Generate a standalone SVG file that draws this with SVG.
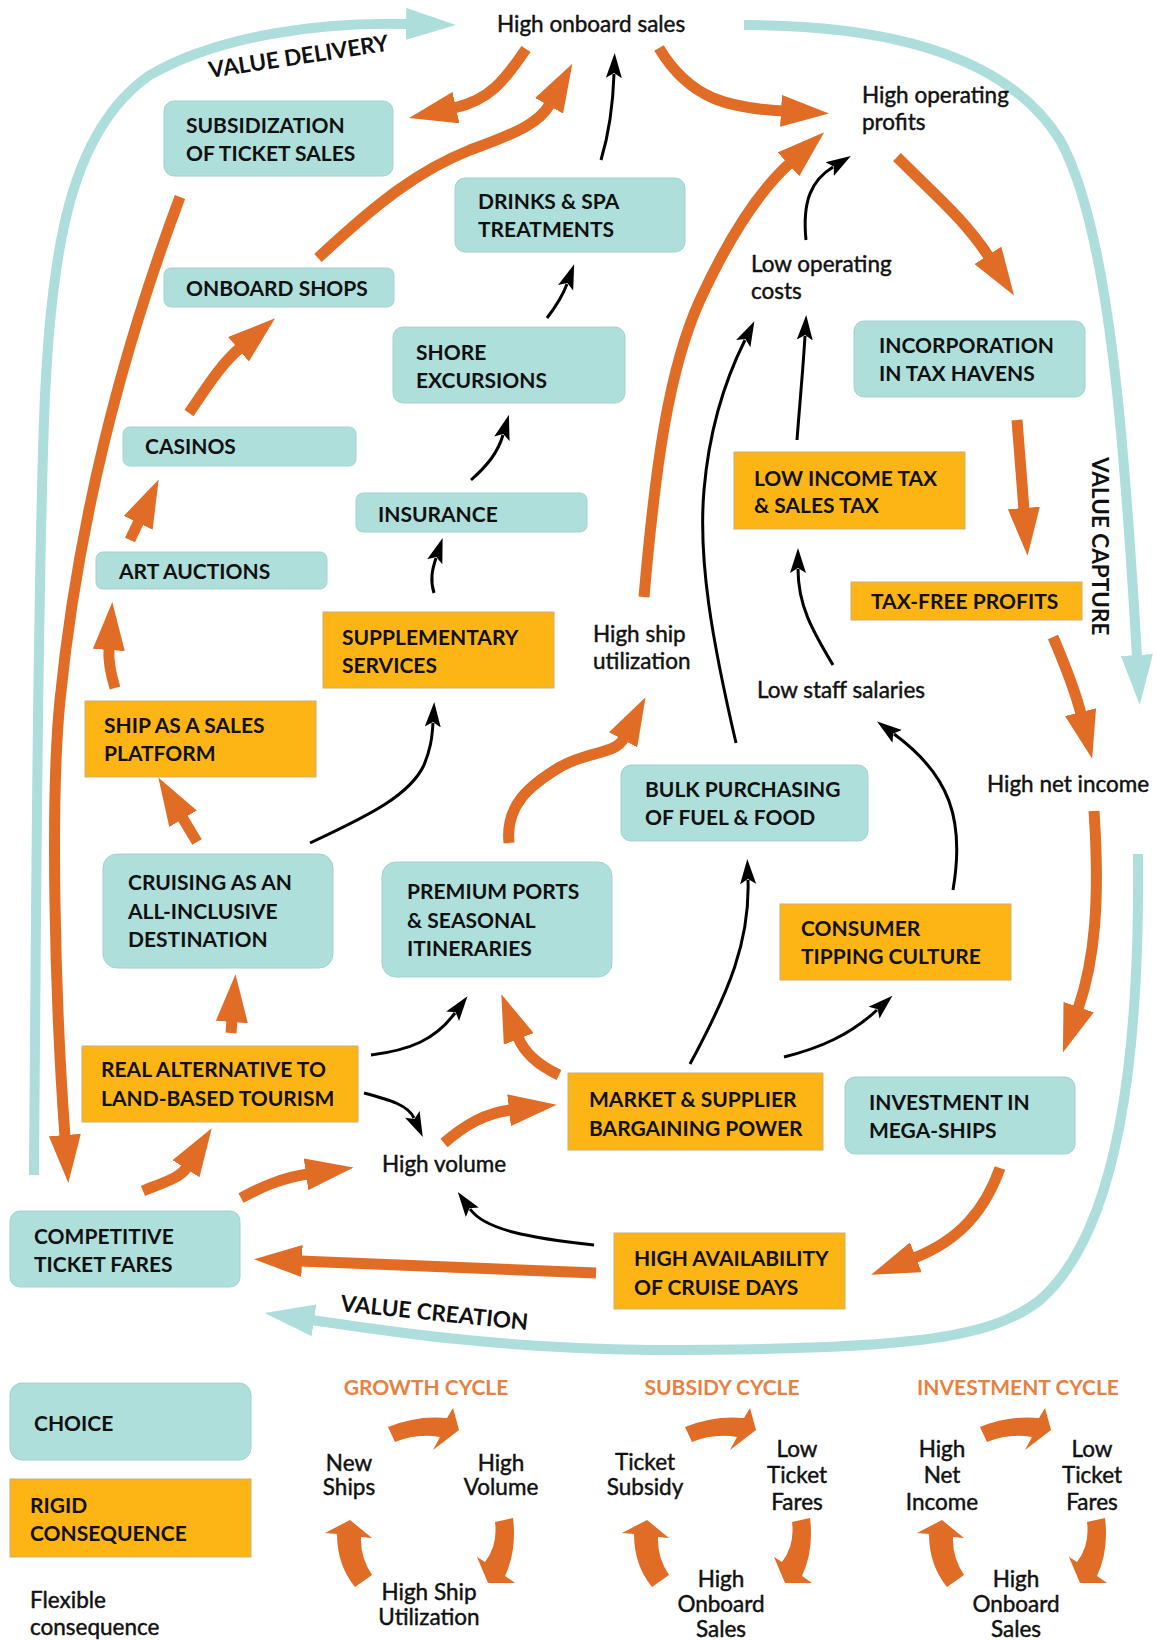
<svg xmlns="http://www.w3.org/2000/svg" width="1156" height="1640" viewBox="0 0 1156 1640">
<defs>
<style>
.ch{fill:#AEDFDB;stroke:#a3d2ce;stroke-width:1}
.rc{fill:#FDB515;stroke:#c9ad7a;stroke-width:1}
text{font-family:Lato,"Liberation Sans",sans-serif;fill:#111}
.bt{font-weight:700;font-size:21px}
.pt{font-weight:400;font-size:22.5px;stroke:#111;stroke-width:0.45}
.lt{font-weight:400;font-size:22.5px;text-anchor:middle;stroke:#111;stroke-width:0.45}
.ct{font-weight:700;font-size:21px;fill:#E8813F;text-anchor:middle}
.big{font-weight:700;font-size:22.5px}
.o{fill:none;stroke:#E06C26;stroke-width:11;marker-end:url(#ho)}
.k{fill:none;stroke:#000;stroke-width:3;marker-end:url(#hk)}
.t{fill:none;stroke:#ADDEDB;stroke-width:10;marker-end:url(#ht)}
.cyc{fill:#E06C26}
</style>
<marker id="ho" markerUnits="userSpaceOnUse" viewBox="0 0 48 32" markerWidth="48" markerHeight="32" refX="2" refY="16" orient="auto"><path d="M0,0 L48,16 L0,32 Z" fill="#E06C26"/></marker>
<marker id="hk" markerUnits="userSpaceOnUse" viewBox="0 0 26 18" markerWidth="26" markerHeight="18" refX="4" refY="9" orient="auto"><path d="M0,1 L25,9 L0,17 L5,9 Z" fill="#000"/></marker>
<marker id="ht" markerUnits="userSpaceOnUse" viewBox="0 0 50 32" markerWidth="50" markerHeight="32" refX="2" refY="16" orient="auto"><path d="M0,0 L50,16 L0,32 Z" fill="#ADDEDB"/></marker>
<g id="cycle">
<path class="cyc" d="M-37,-88 Q-8,-100 22,-97 L28,-107 L34,-85 L8,-65 L15,-78 Q-8,-82 -30,-73 Z"/>
<path class="cyc" d="M70,7 L88,3 Q92,35 80,61 L90,68 L63,68 L52,42 L60,47 Q73,30 70,7 Z"/>
<path class="cyc" d="M-70,72 Q-88,50 -88,19 L-100,18 L-75,5 L-53,23 L-64,22 Q-65,42 -53,60 Z"/>
</g>
</defs>
<rect width="1156" height="1640" fill="#fff"/>

<g id="connectors">
<path class="t" d="M34,1175 C36,900 38,600 44,420 C50,250 70,130 150,75 C220,35 320,22 408,24"/>
<path class="t" d="M744,25 C900,25 1010,60 1060,140 C1110,230 1125,450 1137,657"/>
<path class="t" d="M1138,854 C1140,1050 1120,1230 1040,1300 C990,1340 900,1350 650,1350 C500,1348 400,1333 312,1320"/>

<path class="o" d="M526,49 C505,80 490,100 454,108"/>
<path class="o" d="M318,258 C380,200 420,170 470,150 C520,132 540,122 550,104"/>
<path class="o" d="M659,48 C690,100 730,108 783,111"/>
<path class="o" d="M644,597 C655,470 668,370 700,300 C730,235 760,190 790,163"/>
<path class="o" d="M897,157 C935,195 965,220 989,257"/>
<path class="o" d="M1017,420 L1024,510"/>
<path class="o" d="M1053,637 C1065,665 1075,690 1081,714"/>
<path class="o" d="M1094,811 C1100,900 1095,960 1078,1009"/>
<path class="o" d="M1000,1168 C985,1210 960,1240 914,1258"/>
<path class="o" d="M596,1273 L300,1261"/>
<path class="o" d="M444,1143 C465,1125 485,1113 511,1110"/>
<path class="o" d="M143,1191 C165,1182 180,1178 187,1167"/>
<path class="o" d="M241,1198 C260,1188 280,1178 308,1174"/>
<path class="o" d="M180,197 C130,330 80,500 60,700 C50,800 55,1000 65,1137"/>
<path class="o" d="M231,1033 L232,1020"/>
<path class="o" d="M197,842 L182,817"/>
<path class="o" d="M115,688 C111,675 108,662 109,648"/>
<path class="o" d="M130,540 L139,521"/>
<path class="o" d="M189,413 C205,390 220,365 240,348"/>
<path class="o" d="M509,843 C505,805 530,785 560,767 C590,750 615,755 624,738"/>
<path class="o" d="M559,1075 C540,1066 525,1055 518,1037"/>

<path class="k" d="M601,160 C610,130 613,105 614,74"/>
<path class="k" d="M806,240 C802,200 812,180 833,167"/>
<path class="k" d="M736,743 C712,640 698,560 704,490 C710,420 730,370 745,340"/>
<path class="k" d="M797,440 C800,400 803,370 805,336"/>
<path class="k" d="M833,665 C812,630 798,605 798,569"/>
<path class="k" d="M953,890 C965,820 950,775 894,734"/>
<path class="k" d="M594,1245 C530,1238 485,1230 470,1209"/>
<path class="k" d="M364,1093 C390,1100 408,1105 414,1118"/>
<path class="k" d="M371,1055 C410,1050 435,1040 455,1013"/>
<path class="k" d="M471,480 C488,465 498,452 503,435"/>
<path class="k" d="M434,593 C430,580 432,570 436,558"/>
<path class="k" d="M547,318 C557,305 563,295 567,284"/>
<path class="k" d="M310,843 C370,815 410,795 424,765 C430,750 432,740 433,723"/>
<path class="k" d="M690,1064 C730,990 750,940 748,880"/>
<path class="k" d="M784,1057 C820,1048 850,1035 877,1010"/>
</g>

<g id="labels">
<text class="big" transform="rotate(-8.7 210 78)" x="210" y="78">VALUE DELIVERY</text>
<text class="big" transform="rotate(90 1092 457)" x="1092" y="457">VALUE CAPTURE</text>
<text class="big" transform="rotate(5.8 340 1311)" x="340" y="1311">VALUE CREATION</text>
</g>

<g id="n-high-onboard-sales"><text class="pt" x="497" y="32">High onboard sales</text></g>
<g id="n-high-operating-profits"><text class="pt" x="862" y="103">High operating</text><text class="pt" x="862" y="130">profits</text></g>
<g id="n-low-operating-costs"><text class="pt" x="751" y="272">Low operating</text><text class="pt" x="751" y="299">costs</text></g>
<g id="n-high-ship-utilization"><text class="pt" x="593" y="642">High ship</text><text class="pt" x="593" y="669">utilization</text></g>
<g id="n-low-staff-salaries"><text class="pt" x="757" y="698">Low staff salaries</text></g>
<g id="n-high-net-income"><text class="pt" x="987" y="792">High net income</text></g>
<g id="n-high-volume"><text class="pt" x="382" y="1172">High volume</text></g>

<g id="n-subsidization"><rect class="ch" x="164" y="101" width="229" height="75" rx="10"/><text class="bt" x="186" y="133">SUBSIDIZATION</text><text class="bt" x="186" y="161">OF TICKET SALES</text></g>
<g id="n-onboard-shops"><rect class="ch" x="164" y="268" width="230" height="39" rx="7"/><text class="bt" x="186" y="296">ONBOARD SHOPS</text></g>
<g id="n-drinks-spa"><rect class="ch" x="455" y="178" width="230" height="74" rx="10"/><text class="bt" x="478" y="209">DRINKS &amp; SPA</text><text class="bt" x="478" y="237">TREATMENTS</text></g>
<g id="n-shore-excursions"><rect class="ch" x="393" y="327" width="232" height="76" rx="10"/><text class="bt" x="416" y="360">SHORE</text><text class="bt" x="416" y="388">EXCURSIONS</text></g>
<g id="n-casinos"><rect class="ch" x="123" y="427" width="233" height="39" rx="7"/><text class="bt" x="145" y="454">CASINOS</text></g>
<g id="n-insurance"><rect class="ch" x="356" y="493" width="231" height="39" rx="7"/><text class="bt" x="378" y="522">INSURANCE</text></g>
<g id="n-art-auctions"><rect class="ch" x="96" y="552" width="231" height="37" rx="7"/><text class="bt" x="119" y="579">ART AUCTIONS</text></g>
<g id="n-supplementary"><rect class="rc" x="323" y="612" width="231" height="76"/><text class="bt" x="342" y="645">SUPPLEMENTARY</text><text class="bt" x="342" y="673">SERVICES</text></g>
<g id="n-ship-sales-platform"><rect class="rc" x="85" y="701" width="231" height="76"/><text class="bt" x="104" y="733">SHIP AS A SALES</text><text class="bt" x="104" y="761">PLATFORM</text></g>
<g id="n-low-income-tax"><rect class="rc" x="734" y="452" width="231" height="77"/><text class="bt" x="754" y="486">LOW INCOME TAX</text><text class="bt" x="754" y="513">&amp; SALES TAX</text></g>
<g id="n-tax-free-profits"><rect class="rc" x="851" y="582" width="231" height="38"/><text class="bt" x="871" y="609">TAX-FREE PROFITS</text></g>
<g id="n-incorporation"><rect class="ch" x="854" y="321" width="231" height="76" rx="10"/><text class="bt" x="879" y="353">INCORPORATION</text><text class="bt" x="879" y="381">IN TAX HAVENS</text></g>
<g id="n-bulk-purchasing"><rect class="ch" x="621" y="765" width="247" height="76" rx="10"/><text class="bt" x="645" y="797">BULK PURCHASING</text><text class="bt" x="645" y="825">OF FUEL &amp; FOOD</text></g>
<g id="n-cruising"><rect class="ch" x="103" y="854" width="230" height="114" rx="14"/><text class="bt" x="128" y="890">CRUISING AS AN</text><text class="bt" x="128" y="919">ALL-INCLUSIVE</text><text class="bt" x="128" y="947">DESTINATION</text></g>
<g id="n-premium-ports"><rect class="ch" x="382" y="862" width="230" height="115" rx="14"/><text class="bt" x="407" y="899">PREMIUM PORTS</text><text class="bt" x="407" y="928">&amp; SEASONAL</text><text class="bt" x="407" y="956">ITINERARIES</text></g>
<g id="n-consumer-tipping"><rect class="rc" x="780" y="904" width="231" height="76"/><text class="bt" x="801" y="936">CONSUMER</text><text class="bt" x="801" y="964">TIPPING CULTURE</text></g>
<g id="n-real-alternative"><rect class="rc" x="82" y="1046" width="276" height="76"/><text class="bt" x="101" y="1077">REAL ALTERNATIVE TO</text><text class="bt" x="101" y="1106">LAND-BASED TOURISM</text></g>
<g id="n-market-bargaining"><rect class="rc" x="568" y="1073" width="255" height="77"/><text class="bt" x="589" y="1107">MARKET &amp; SUPPLIER</text><text class="bt" x="589" y="1136">BARGAINING POWER</text></g>
<g id="n-investment-mega-ships"><rect class="ch" x="845" y="1077" width="230" height="77" rx="10"/><text class="bt" x="869" y="1110">INVESTMENT IN</text><text class="bt" x="869" y="1138">MEGA-SHIPS</text></g>
<g id="n-competitive-fares"><rect class="ch" x="10" y="1211" width="230" height="76" rx="10"/><text class="bt" x="34" y="1244">COMPETITIVE</text><text class="bt" x="34" y="1272">TICKET FARES</text></g>
<g id="n-high-availability"><rect class="rc" x="614" y="1233" width="231" height="76"/><text class="bt" x="634" y="1266">HIGH AVAILABILITY</text><text class="bt" x="634" y="1295">OF CRUISE DAYS</text></g>

<g id="legend-choice"><rect class="ch" x="10" y="1383" width="241" height="77" rx="12"/><text class="bt" x="34" y="1431">CHOICE</text></g>
<g id="legend-rigid"><rect class="rc" x="10" y="1479" width="241" height="78"/><text class="bt" x="30" y="1513">RIGID</text><text class="bt" x="30" y="1541">CONSEQUENCE</text></g>
<g id="legend-flexible"><text class="pt" x="30" y="1608">Flexible</text><text class="pt" x="30" y="1635">consequence</text></g>

<g id="growth-cycle">
<text class="ct" x="426" y="1395">GROWTH CYCLE</text>
<use href="#cycle" transform="translate(425 1515)"/>
<text class="lt" x="349" y="1471">New</text><text class="lt" x="349" y="1495">Ships</text>
<text class="lt" x="501" y="1471">High</text><text class="lt" x="501" y="1495">Volume</text>
<text class="lt" x="429" y="1600">High Ship</text><text class="lt" x="429" y="1625">Utilization</text>
</g>
<g id="subsidy-cycle">
<text class="ct" x="722" y="1395">SUBSIDY CYCLE</text>
<use href="#cycle" transform="translate(722 1515)"/>
<text class="lt" x="645" y="1470">Ticket</text><text class="lt" x="645" y="1495">Subsidy</text>
<text class="lt" x="797" y="1457">Low</text><text class="lt" x="797" y="1483">Ticket</text><text class="lt" x="797" y="1510">Fares</text>
<text class="lt" x="721" y="1587">High</text><text class="lt" x="721" y="1612">Onboard</text><text class="lt" x="721" y="1637">Sales</text>
</g>
<g id="investment-cycle">
<text class="ct" x="1018" y="1395">INVESTMENT CYCLE</text>
<use href="#cycle" transform="translate(1017 1515)"/>
<text class="lt" x="942" y="1457">High</text><text class="lt" x="942" y="1483">Net</text><text class="lt" x="942" y="1510">Income</text>
<text class="lt" x="1092" y="1457">Low</text><text class="lt" x="1092" y="1483">Ticket</text><text class="lt" x="1092" y="1510">Fares</text>
<text class="lt" x="1016" y="1587">High</text><text class="lt" x="1016" y="1612">Onboard</text><text class="lt" x="1016" y="1637">Sales</text>
</g>
</svg>
